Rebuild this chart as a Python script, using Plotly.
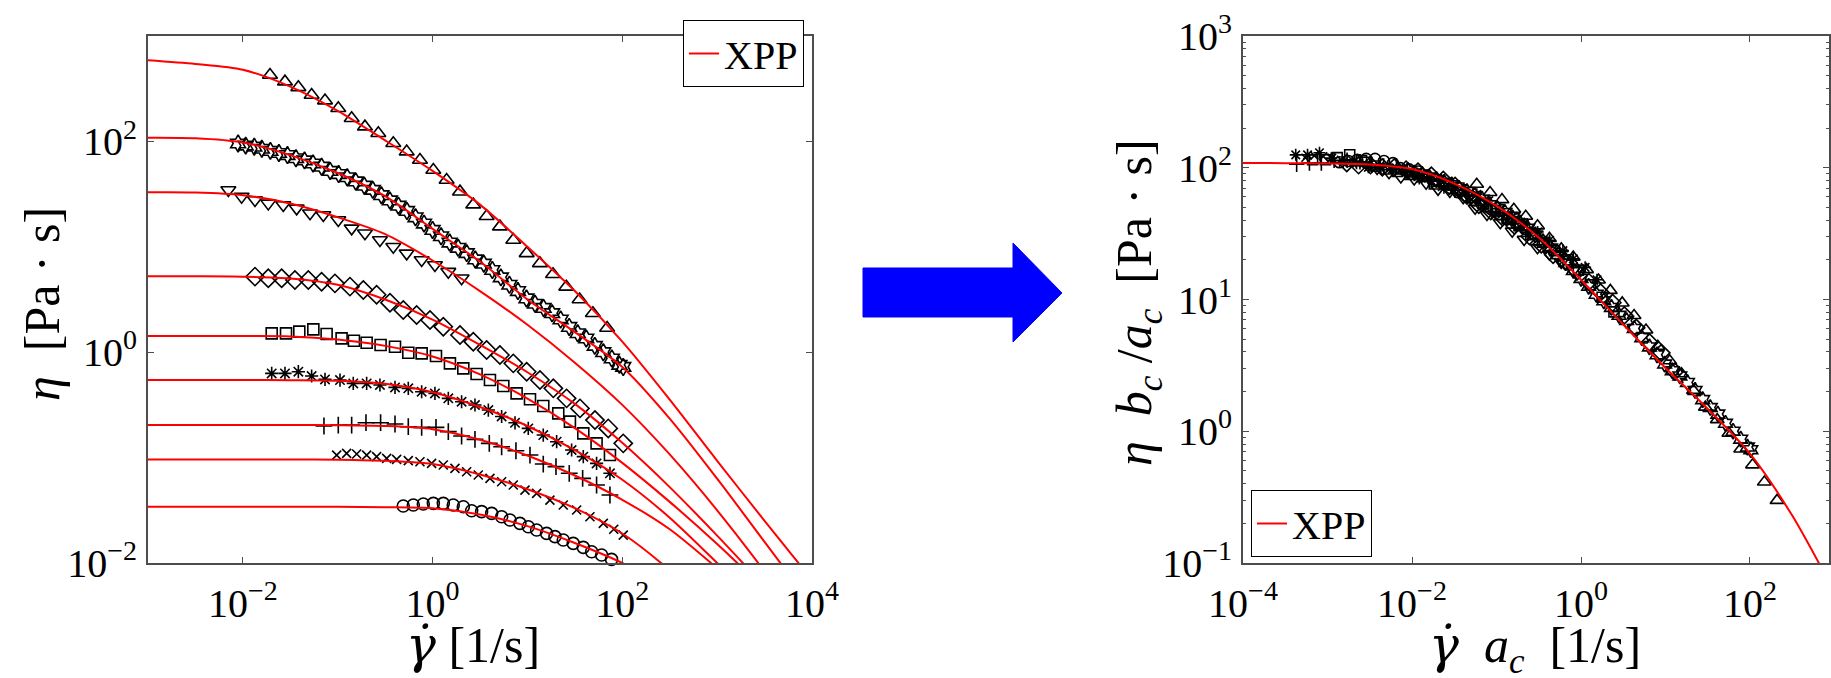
import numpy as np
import plotly.graph_objects as go

W, H = 1831, 678

# ---------------- data (log10 values) ----------------
tri_logx = [-1.714, -1.556, -1.415, -1.275, -1.134, -0.994, -0.853, -0.713, -0.572, -0.414, -0.273, -0.133,
            0.008, 0.148, 0.289, 0.429, 0.570, 0.710, 0.851, 0.992, 1.132, 1.27, 1.41, 1.55, 1.69, 1.84]
tri_logy = [2.630, 2.567, 2.513, 2.440, 2.387, 2.314, 2.219, 2.140, 2.077, 1.982, 1.903, 1.824,
            1.729, 1.634, 1.523, 1.40, 1.29, 1.191, 1.065, 0.938, 0.843, 0.74, 0.62, 0.50, 0.37, 0.23]

star_logx = [-2.05, -1.97, -1.88, -1.80, -1.71, -1.62, -1.53, -1.44, -1.35, -1.26, -1.17, -1.08, -0.99, -0.90,
             -0.81, -0.72, -0.63, -0.54, -0.45, -0.36, -0.27, -0.18, -0.09, 0.00, 0.09, 0.18, 0.27, 0.36, 0.45,
             0.54, 0.63, 0.72, 0.81, 0.90, 0.99, 1.08, 1.17, 1.26, 1.35, 1.44, 1.53, 1.62, 1.71, 1.80, 1.89, 1.97, 2.01]
star_logy = [1.98, 1.96, 1.95, 1.93, 1.91, 1.89, 1.87, 1.84, 1.82, 1.79, 1.76, 1.72, 1.69, 1.66,
             1.62, 1.58, 1.54, 1.49, 1.44, 1.39, 1.34, 1.28, 1.22, 1.16, 1.10, 1.04, 0.99, 0.94, 0.88,
             0.84, 0.78, 0.71, 0.64, 0.58, 0.51, 0.46, 0.42, 0.37, 0.31, 0.24, 0.18, 0.13, 0.06, 0.00, -0.06, -0.12, -0.14]

dtri_logx = [-2.153, -2.013, -1.872, -1.732, -1.574, -1.433, -1.292, -1.152, -0.994, -0.853, -0.713, -0.555,
             -0.414, -0.273, -0.115, 0.025, 0.166, 0.306]
dtri_logy = [1.539, 1.476, 1.444, 1.412, 1.397, 1.365, 1.318, 1.302, 1.254, 1.175, 1.128, 1.065,
             1.001, 0.938, 0.875, 0.827, 0.764, 0.701]

dia_logx = [-1.872, -1.732, -1.591, -1.451, -1.310, -1.170, -1.029, -0.871, -0.730, -0.590, -0.449, -0.309,
            -0.168, -0.027, 0.113, 0.289, 0.429, 0.570, 0.710, 0.851, 0.992, 1.132, 1.273, 1.413, 1.554,
            1.712, 1.852, 2.010]
dia_logy = [0.717, 0.701, 0.701, 0.685, 0.685, 0.669, 0.653, 0.622, 0.590, 0.545, 0.470, 0.400,
            0.353, 0.305, 0.242, 0.163, 0.100, 0.021, -0.027, -0.106, -0.185, -0.264, -0.343, -0.438, -0.533,
            -0.644, -0.723, -0.865]

sq_logx = [-1.696, -1.545, -1.405, -1.257, -1.117, -0.959, -0.829, -0.695, -0.548, -0.396, -0.256, -0.115,
           0.036, 0.183, 0.324, 0.464, 0.605, 0.746, 0.886, 1.027, 1.167, 1.325, 1.448, 1.589, 1.729, 1.870]
sq_logy = [0.179, 0.179, 0.195, 0.217, 0.172, 0.131, 0.109, 0.090, 0.068, 0.052, -0.005, -0.011,
           -0.036, -0.106, -0.153, -0.207, -0.264, -0.321, -0.391, -0.447, -0.511, -0.580, -0.659, -0.770, -0.865, -0.976]

ast_logx = [-1.696, -1.556, -1.415, -1.275, -1.134, -0.976, -0.836, -0.695, -0.555, -0.396, -0.256, -0.115,
            0.025, 0.166, 0.306, 0.447, 0.588, 0.728, 0.869, 1.009, 1.167, 1.308, 1.466, 1.589, 1.729, 1.870]
ast_logy = [-0.201, -0.201, -0.185, -0.226, -0.258, -0.264, -0.296, -0.296, -0.311, -0.334, -0.343, -0.375,
            -0.391, -0.438, -0.470, -0.501, -0.549, -0.610, -0.670, -0.723, -0.786, -0.849, -0.928, -0.991, -1.055, -1.149]

plus_logx = [-1.145, -0.994, -0.853, -0.702, -0.548, -0.396, -0.256, -0.115, 0.036, 0.166, 0.306, 0.447,
             0.598, 0.728, 0.879, 1.027, 1.167, 1.301, 1.441, 1.582, 1.729, 1.870]
plus_logy = [-0.700, -0.691, -0.691, -0.669, -0.669, -0.681, -0.707, -0.713, -0.713, -0.754, -0.795, -0.827,
             -0.865, -0.897, -0.935, -0.976, -1.061, -1.086, -1.149, -1.197, -1.260, -1.355]

x_logx = [-1.011, -0.906, -0.800, -0.695, -0.590, -0.484, -0.379, -0.256, -0.133, -0.010, 0.113, 0.236,
          0.359, 0.482, 0.605, 0.728, 0.851, 0.974, 1.097, 1.237, 1.378, 1.519, 1.659, 1.800, 1.910, 2.010]
x_logy = [-0.976, -0.960, -0.966, -0.976, -0.991, -1.007, -1.017, -1.029, -1.039, -1.055, -1.070, -1.102,
          -1.134, -1.165, -1.197, -1.229, -1.260, -1.308, -1.339, -1.403, -1.450, -1.497, -1.561, -1.624, -1.680, -1.735]

circ_logx = [-0.309, -0.203, -0.098, 0.008, 0.113, 0.218, 0.324, 0.412, 0.517, 0.623, 0.728, 0.816,
             0.921, 1.009, 1.097, 1.202, 1.290, 1.378, 1.483, 1.589, 1.677, 1.782, 1.887, 1.993]
circ_logy = [-1.459, -1.450, -1.440, -1.434, -1.434, -1.450, -1.466, -1.504, -1.513, -1.529, -1.561, -1.592,
             -1.624, -1.656, -1.687, -1.719, -1.750, -1.782, -1.814, -1.852, -1.893, -1.924, -1.966, -2.003]

# XPP fits at each temperature (left panel), log10 eta at fit_logx
fit_logx = [-3, -2.5, -2, -1.5, -1, -0.5, 0, 0.5, 1, 1.5, 2, 2.5, 3, 3.5, 4]
fit_tri = [2.77, 2.735, 2.68, 2.52, 2.29, 2.01, 1.72, 1.40, 1.00, 0.58, 0.10, -0.45, -1.03, -1.60, -2.16]
fit_star = [2.035, 2.03, 1.99, 1.87, 1.70, 1.48, 1.17, 0.86, 0.50, 0.19, -0.14, -0.63, -1.20, -1.80, -2.40]
fit_dtri = [1.517, 1.515, 1.49, 1.41, 1.28, 1.12, 0.87, 0.58, 0.26, -0.10, -0.50, -0.97, -1.50, -2.08, -2.70]
fit_dia = [0.72, 0.72, 0.717, 0.70, 0.64, 0.50, 0.31, 0.07, -0.19, -0.49, -0.86, -1.28, -1.74, -2.22, -2.70]
fit_sq = [0.153, 0.153, 0.153, 0.15, 0.12, 0.06, -0.04, -0.21, -0.44, -0.72, -1.05, -1.42, -1.82, -2.25, -2.70]
fit_ast = [-0.264, -0.264, -0.264, -0.265, -0.27, -0.30, -0.38, -0.52, -0.70, -0.93, -1.21, -1.57, -2.00, -2.45, -2.90]
fit_plus = [-0.691, -0.691, -0.691, -0.691, -0.692, -0.70, -0.73, -0.83, -0.98, -1.17, -1.40, -1.68, -2.05, -2.45, -2.85]
fit_x = [-1.017, -1.017, -1.017, -1.017, -1.02, -1.03, -1.06, -1.16, -1.30, -1.48, -1.72, -2.07, -2.50, -2.95, -3.40]
fit_circ = [-1.466, -1.466, -1.466, -1.466, -1.466, -1.47, -1.48, -1.54, -1.65, -1.81, -2.00, -2.25, -2.55, -2.85, -3.15]

# master curve (right panel)
master_logx = [-4, -3.5, -3, -2.5, -2, -1.5, -1, -0.5, 0, 0.5, 1, 1.5, 2, 2.5, 3, 3.5]
master_logy = [2.036, 2.035, 2.033, 2.025, 1.99, 1.88, 1.71, 1.47, 1.15, 0.81, 0.48, 0.17, -0.17, -0.64, -1.22, -1.82]

# shift factors (log10 a_c, log10 b_c) per data set
log_a_c = [0.48, 0.00, -0.40, -0.90, -1.48, -1.68, -2.22, -2.25, -2.55]
log_b_c = [-0.275, 0.00, 0.118, 0.418, 0.402, 0.619, 0.506, 0.802, 0.951]

series = [
    (tri_logx, tri_logy, fit_tri, "triangle-up-open", 13),
    (star_logx, star_logy, fit_star, "hexagram-open", 13),
    (dtri_logx, dtri_logy, fit_dtri, "triangle-down-open", 13),
    (dia_logx, dia_logy, fit_dia, "diamond-open", 14),
    (sq_logx, sq_logy, fit_sq, "square-open", 11),
    (ast_logx, ast_logy, fit_ast, "asterisk-open", 11),
    (plus_logx, plus_logy, fit_plus, "cross-thin-open", 12),
    (x_logx, x_logy, fit_x, "x-thin-open", 9),
    (circ_logx, circ_logy, fit_circ, "circle-open", 12),
]

fig = go.Figure()

RED = "#ff0000"
for i, (lx, ly, fit, sym, size) in enumerate(series):
    gx = 10 ** np.array(lx)
    eta = 10 ** np.array(ly)
    mk = dict(symbol=sym, size=size, color="black", line=dict(color="black", width=1.6))
    fig.add_trace(go.Scatter(x=gx, y=eta, mode="markers", marker=mk, showlegend=False,
                             cliponaxis=False, xaxis="x", yaxis="y"))
    a = 10 ** log_a_c[i]
    b = 10 ** log_b_c[i]
    mk2 = dict(symbol=sym, size=size - 1, color="black", line=dict(color="black", width=1.6))
    fig.add_trace(go.Scatter(x=gx * a, y=eta * b / a, mode="markers", marker=mk2, showlegend=False,
                             cliponaxis=False, xaxis="x2", yaxis="y2"))

for i, (lx, ly, fit, sym, size) in enumerate(series):
    fig.add_trace(go.Scatter(x=10 ** np.array(fit_logx, dtype=float), y=10 ** np.array(fit), mode="lines",
                             line=dict(color=RED, width=2, shape="spline", smoothing=0.8),
                             name="XPP", showlegend=(i == 0), legend="legend",
                             xaxis="x", yaxis="y"))

fig.add_trace(go.Scatter(x=10 ** np.array(master_logx, dtype=float), y=10 ** np.array(master_logy), mode="lines",
                         line=dict(color=RED, width=2, shape="spline", smoothing=0.8),
                         name="XPP", showlegend=True, legend="legend2", xaxis="x2", yaxis="y2"))

FONT = "Liberation Serif"
AXC = "#4d4d4d"


def sup(k):
    s = str(k).replace("-", "\u2212")
    return f"10<sup>{s}</sup>"


base = dict(type="log", showline=True, linecolor=AXC, linewidth=2, mirror="ticks", ticks="inside",
            ticklen=6, tickwidth=1, tickcolor=AXC, showgrid=False, zeroline=False, automargin=False,
            tickfont=dict(size=40, family=FONT, color="black"), tickmode="array")

xL = [-2, 0, 2, 4]
yL = [-2, 0, 2]
xR = [-4, -2, 0, 2]
yR = [-1, 0, 1, 2, 3]
minorR = [m * 10 ** k for k in range(-1, 3) for m in range(2, 10)]

fig.update_layout(
    width=W, height=H, margin=dict(l=0, r=0, t=0, b=0),
    paper_bgcolor="white", plot_bgcolor="white",
    font=dict(family=FONT, color="black"),
    xaxis=dict(base, domain=[148 / W, 812 / W], range=[-3, 4],
               tickvals=[10 ** k for k in xL], ticktext=[sup(k) for k in xL], anchor="y",
               ticklabelstandoff=4),
    yaxis=dict(base, domain=[1 - 563 / H, 1 - 36 / H], range=[-2, 3],
               tickvals=[10 ** k for k in yL], ticktext=[sup(k) for k in yL], anchor="x",
               ticklabelstandoff=1),
    xaxis2=dict(base, domain=[1243 / W, 1829 / W], range=[-4, 2.935],
                tickvals=[10 ** k for k in xR], ticktext=[sup(k) for k in xR], anchor="y2",
                ticklabelstandoff=4),
    yaxis2=dict(base, domain=[1 - 563 / H, 1 - 36 / H], range=[-1, 3],
                tickvals=[10 ** k for k in yR], ticktext=[sup(k) for k in yR], anchor="x2",
                ticklabelstandoff=1,
                minor=dict(tickmode="array", tickvals=minorR, ticks="inside", ticklen=3,
                           tickcolor=AXC, showgrid=False)),
    legend=dict(x=804 / W, y=1 - 20 / H, xanchor="right", yanchor="top", bgcolor="white",
                bordercolor="black", borderwidth=1, font=dict(size=40, family=FONT, color="black")),
    legend2=dict(x=1251 / W, y=1 - 557 / H, xanchor="left", yanchor="bottom", bgcolor="white",
                 bordercolor="black", borderwidth=1, font=dict(size=40, family=FONT, color="black")),
)

NB = "\u00a0"
GD = '<span style="font-family:DejaVu Serif">\u03b3\u0307</span>'
titles = [
    (f"<i>{GD}</i>{NB}[1/s]", 473, 645, 0),
    (f"<i>\u03b7</i>{NB}{NB}[Pa{NB}\u00b7{NB}s]", 42, 304, -90),
    (f"<i>\u03b7{NB}{NB}b<sub>c</sub></i>{NB}/<i>a<sub>c</sub></i>{NB}{NB}[Pa{NB}\u00b7{NB}s]", 1138, 303, -90),
    (f"<i>{GD}{NB}{NB}a<sub>c</sub></i>{NB}{NB}[1/s]", 1535, 648, 0),
]
for txt, px, py, ang in titles:
    fig.add_annotation(text=txt, x=px / W, y=1 - py / H, xref="paper", yref="paper",
                       showarrow=False, textangle=ang, xanchor="center", yanchor="middle",
                       font=dict(size=50, family=FONT, color="black"))

# blue arrow between the panels
arrow_px = [(863, 268), (1013, 268), (1013, 243), (1062, 293), (1013, 342), (1013, 317), (863, 317)]
path = "M " + " L ".join(f"{x / W:.5f},{1 - y / H:.5f}" for x, y in arrow_px) + " Z"
fig.add_shape(type="path", path=path, xref="paper", yref="paper",
              fillcolor="#0000ff", line=dict(color="#0000ff", width=1))

fig.write_html("out.html")
